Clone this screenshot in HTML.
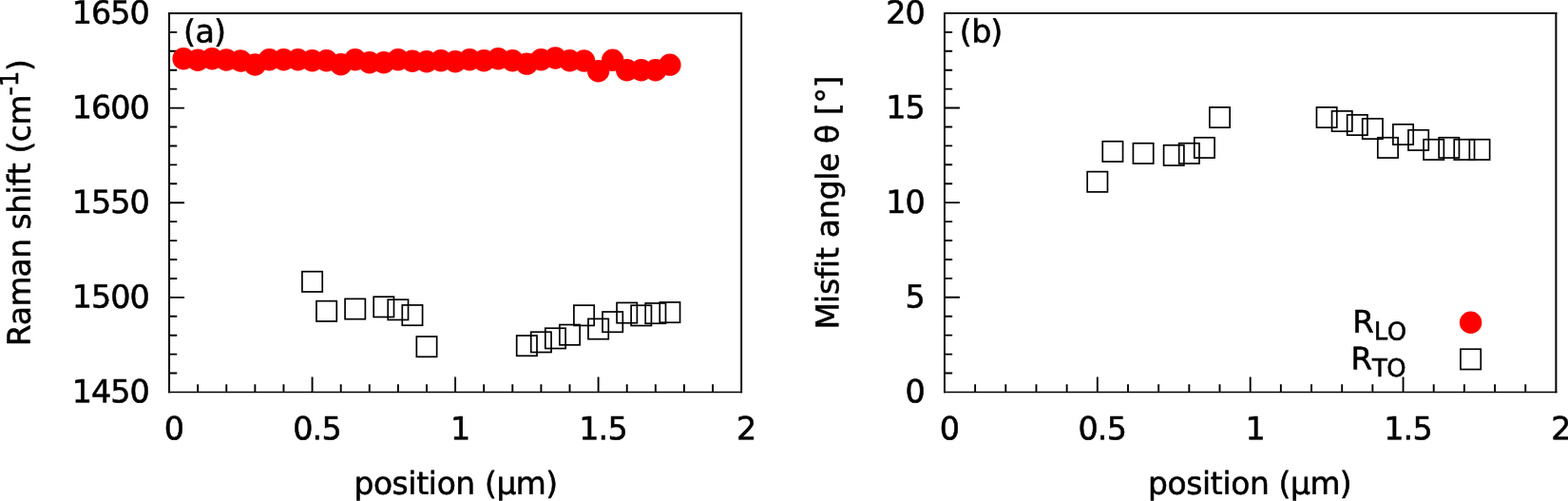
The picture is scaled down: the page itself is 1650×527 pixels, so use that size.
<!DOCTYPE html>
<html lang="en">
<head>
<meta charset="utf-8">
<title>Raman shift and misfit angle vs position</title>
<style>
html,body{margin:0;padding:0;background:#fff;}
svg{display:block;}
text{font-family:"DejaVu Sans", "Liberation Sans", sans-serif;font-size:32.9px;fill:#000;stroke:#000;stroke-width:0.55px;stroke-linejoin:round;font-kerning:none;font-variant-ligatures:none;white-space:pre;}
</style>
</head>
<body>
<svg width="1650" height="527" viewBox="0 0 1650 527">
<rect x="0" y="0" width="1650" height="527" fill="#fff"/>
<path d="M177.05 13.97H781.10" fill="none" stroke="#000" stroke-width="2.0"/>
<path d="M780.15 12.97V413.31" fill="none" stroke="#000" stroke-width="1.9"/>
<path d="M177.05 412.48H781.10" fill="none" stroke="#000" stroke-width="1.65"/>
<path d="M178.05 12.97V413.31" fill="none" stroke="#000" stroke-width="2.0"/>
<path d="M208.16 412.48v-8.2 M238.26 412.48v-8.2 M268.37 412.48v-8.2 M298.47 412.48v-8.2 M328.57 412.48v-16 M358.68 412.48v-8.2 M388.78 412.48v-8.2 M418.89 412.48v-8.2 M449.00 412.48v-8.2 M479.10 412.48v-16 M509.20 412.48v-8.2 M539.31 412.48v-8.2 M569.41 412.48v-8.2 M599.52 412.48v-8.2 M629.62 412.48v-16 M659.73 412.48v-8.2 M689.84 412.48v-8.2 M719.94 412.48v-8.2 M750.05 412.48v-8.2 M178.05 392.55h8.2 M178.05 372.63h8.2 M178.05 352.70h8.2 M178.05 332.78h8.2 M178.05 312.85h16 M178.05 292.93h8.2 M178.05 273.00h8.2 M178.05 253.08h8.2 M178.05 233.15h8.2 M178.05 213.23h16 M178.05 193.30h8.2 M178.05 173.37h8.2 M178.05 153.45h8.2 M178.05 133.52h8.2 M178.05 113.60h16 M178.05 93.67h8.2 M178.05 73.75h8.2 M178.05 53.82h8.2 M178.05 33.90h8.2" fill="none" stroke="#000" stroke-width="1.9"/>
<text transform="translate(182.95 462.28) skewY(0.03)"><tspan x="-10.13" y="0.00" style="font-size:33.40px">0</tspan></text>
<text transform="translate(333.47 462.28) skewY(0.03)"><tspan x="-25.32 -5.06 5.06" y="0.00" style="font-size:33.40px">0.5</tspan></text>
<text transform="translate(484.00 462.28) skewY(0.03)"><tspan x="-10.13" y="0.00" style="font-size:33.40px">1</tspan></text>
<text transform="translate(634.52 462.28) skewY(0.03)"><tspan x="-25.32 -5.06 5.06" y="0.00" style="font-size:33.40px">1.5</tspan></text>
<text transform="translate(785.05 462.28) skewY(0.03)"><tspan x="-10.13" y="0.00" style="font-size:33.40px">2</tspan></text>
<text transform="translate(156.85 423.28) skewY(0.03)"><tspan x="-81.05 -60.79 -40.52 -20.26" y="0.00" style="font-size:33.40px">1450</tspan></text>
<text transform="translate(156.85 323.65) skewY(0.03)"><tspan x="-81.05 -60.79 -40.52 -20.26" y="0.00" style="font-size:33.40px">1500</tspan></text>
<text transform="translate(156.85 224.03) skewY(0.03)"><tspan x="-81.05 -60.79 -40.52 -20.26" y="0.00" style="font-size:33.40px">1550</tspan></text>
<text transform="translate(156.85 124.40) skewY(0.03)"><tspan x="-81.05 -60.79 -40.52 -20.26" y="0.00" style="font-size:33.40px">1600</tspan></text>
<text transform="translate(156.85 24.77) skewY(0.03)"><tspan x="-81.05 -60.79 -40.52 -20.26" y="0.00" style="font-size:33.40px">1650</tspan></text>
<text transform="translate(193.05 44.57) skewY(0.03)"><tspan x="0.00 12.42 31.94" y="0.00" style="font-size:33.40px">(a)</tspan></text>
<path d="M993.00 13.90H1638.40" fill="none" stroke="#000" stroke-width="1.8"/>
<path d="M1637.40 13.00V413.27" fill="none" stroke="#000" stroke-width="2.0"/>
<path d="M993.00 412.45H1638.40" fill="none" stroke="#000" stroke-width="1.65"/>
<path d="M993.95 13.00V413.27" fill="none" stroke="#000" stroke-width="1.9"/>
<path d="M1026.12 412.45v-8.2 M1058.30 412.45v-8.2 M1090.47 412.45v-8.2 M1122.64 412.45v-8.2 M1154.81 412.45v-16 M1186.99 412.45v-8.2 M1219.16 412.45v-8.2 M1251.33 412.45v-8.2 M1283.50 412.45v-8.2 M1315.68 412.45v-16 M1347.85 412.45v-8.2 M1380.02 412.45v-8.2 M1412.19 412.45v-8.2 M1444.37 412.45v-8.2 M1476.54 412.45v-16 M1508.71 412.45v-8.2 M1540.88 412.45v-8.2 M1573.06 412.45v-8.2 M1605.23 412.45v-8.2 M993.95 392.52h8.2 M993.95 372.59h8.2 M993.95 352.67h8.2 M993.95 332.74h8.2 M993.95 312.81h16 M993.95 292.88h8.2 M993.95 272.96h8.2 M993.95 253.03h8.2 M993.95 233.10h8.2 M993.95 213.17h16 M993.95 193.25h8.2 M993.95 173.32h8.2 M993.95 153.39h8.2 M993.95 133.46h8.2 M993.95 113.54h16 M993.95 93.61h8.2 M993.95 73.68h8.2 M993.95 53.75h8.2 M993.95 33.83h8.2" fill="none" stroke="#000" stroke-width="1.9"/>
<text transform="translate(998.85 462.25) skewY(0.03)"><tspan x="-10.13" y="0.00" style="font-size:33.40px">0</tspan></text>
<text transform="translate(1159.71 462.25) skewY(0.03)"><tspan x="-25.32 -5.06 5.06" y="0.00" style="font-size:33.40px">0.5</tspan></text>
<text transform="translate(1320.58 462.25) skewY(0.03)"><tspan x="-10.13" y="0.00" style="font-size:33.40px">1</tspan></text>
<text transform="translate(1481.44 462.25) skewY(0.03)"><tspan x="-25.32 -5.06 5.06" y="0.00" style="font-size:33.40px">1.5</tspan></text>
<text transform="translate(1642.30 462.25) skewY(0.03)"><tspan x="-10.13" y="0.00" style="font-size:33.40px">2</tspan></text>
<text transform="translate(972.75 423.25) skewY(0.03)"><tspan x="-20.26" y="0.00" style="font-size:33.40px">0</tspan></text>
<text transform="translate(972.75 323.61) skewY(0.03)"><tspan x="-20.26" y="0.00" style="font-size:33.40px">5</tspan></text>
<text transform="translate(972.75 223.97) skewY(0.03)"><tspan x="-40.52 -20.26" y="0.00" style="font-size:33.40px">10</tspan></text>
<text transform="translate(972.75 124.34) skewY(0.03)"><tspan x="-40.52 -20.26" y="0.00" style="font-size:33.40px">15</tspan></text>
<text transform="translate(972.75 24.70) skewY(0.03)"><tspan x="-40.52 -20.26" y="0.00" style="font-size:33.40px">20</tspan></text>
<text transform="translate(1009.75 44.50) skewY(0.03)"><tspan x="0.00 12.42 32.64" y="0.00" style="font-size:33.40px">(b)</tspan></text>
<text transform="translate(479.60 519.80) skewY(0.03)"><tspan x="-107.08 -86.70 -67.05 -50.32 -41.40 -28.81 -19.89 -0.24 20.11 30.32 42.84 63.27 94.55" y="0.00">position (µm)</tspan></text>
<text transform="translate(1315.20 519.80) skewY(0.03)"><tspan x="-107.08 -86.70 -67.05 -50.32 -41.40 -28.81 -19.89 -0.24 20.11 30.32 42.84 63.27 94.55" y="0.00">position (µm)</tspan></text>
<text transform="translate(31.70 213.40) rotate(-90) skewY(0.03)"><tspan x="-150.98 -128.76 -109.17 -78.02 -58.42 -38.15 -27.99 -11.33 8.94 17.83 29.09 41.62 51.79 64.27 81.85" y="0.00">Raman shift (cm</tspan><tspan x="113.00 122.23" y="-12.70" style="font-size:26.32px">-1</tspan><tspan x="138.51" y="0.00">)</tspan></text>
<text transform="translate(882.20 213.30) rotate(-90) skewY(0.03)"><tspan x="-133.32 -105.61 -96.69 -79.96 -68.66 -59.74 -47.15 -36.94 -17.26 3.09 23.47 32.39 52.15 62.36 82.00 92.21 104.74 120.79" y="0.00">Misfit angle θ [°]</tspan></text>
<circle cx="193.10" cy="61.69" r="11.7" fill="#f00"/>
<circle cx="208.16" cy="63.29" r="11.7" fill="#f00"/>
<circle cx="223.21" cy="61.79" r="11.7" fill="#f00"/>
<circle cx="238.26" cy="62.99" r="11.7" fill="#f00"/>
<circle cx="253.31" cy="63.98" r="11.7" fill="#f00"/>
<circle cx="268.37" cy="68.07" r="11.7" fill="#f00"/>
<circle cx="283.42" cy="62.79" r="11.7" fill="#f00"/>
<circle cx="298.47" cy="62.79" r="11.7" fill="#f00"/>
<circle cx="313.52" cy="62.79" r="11.7" fill="#f00"/>
<circle cx="328.57" cy="63.78" r="11.7" fill="#f00"/>
<circle cx="343.63" cy="63.78" r="11.7" fill="#f00"/>
<circle cx="358.68" cy="67.77" r="11.7" fill="#f00"/>
<circle cx="373.73" cy="62.79" r="11.7" fill="#f00"/>
<circle cx="388.78" cy="65.78" r="11.7" fill="#f00"/>
<circle cx="403.84" cy="65.78" r="11.7" fill="#f00"/>
<circle cx="418.89" cy="62.79" r="11.7" fill="#f00"/>
<circle cx="433.94" cy="64.28" r="11.7" fill="#f00"/>
<circle cx="449.00" cy="64.78" r="11.7" fill="#f00"/>
<circle cx="464.05" cy="63.78" r="11.7" fill="#f00"/>
<circle cx="479.10" cy="64.78" r="11.7" fill="#f00"/>
<circle cx="494.15" cy="62.79" r="11.7" fill="#f00"/>
<circle cx="509.20" cy="63.78" r="11.7" fill="#f00"/>
<circle cx="524.26" cy="61.79" r="11.7" fill="#f00"/>
<circle cx="539.31" cy="63.78" r="11.7" fill="#f00"/>
<circle cx="554.36" cy="67.17" r="11.7" fill="#f00"/>
<circle cx="569.41" cy="62.79" r="11.7" fill="#f00"/>
<circle cx="584.47" cy="60.99" r="11.7" fill="#f00"/>
<circle cx="599.52" cy="63.78" r="11.7" fill="#f00"/>
<circle cx="614.57" cy="63.98" r="11.7" fill="#f00"/>
<circle cx="629.62" cy="74.74" r="11.7" fill="#f00"/>
<circle cx="644.68" cy="63.19" r="11.7" fill="#f00"/>
<circle cx="659.73" cy="73.75" r="11.7" fill="#f00"/>
<circle cx="674.78" cy="73.75" r="11.7" fill="#f00"/>
<circle cx="689.84" cy="73.75" r="11.7" fill="#f00"/>
<circle cx="704.89" cy="68.17" r="11.7" fill="#f00"/>
<rect x="317.93" y="285.66" width="21.3" height="21.3" fill="none" stroke="#000" stroke-width="1.7"/>
<rect x="332.98" y="316.65" width="21.3" height="21.3" fill="none" stroke="#000" stroke-width="1.7"/>
<rect x="363.08" y="314.36" width="21.3" height="21.3" fill="none" stroke="#000" stroke-width="1.7"/>
<rect x="393.19" y="312.17" width="21.3" height="21.3" fill="none" stroke="#000" stroke-width="1.7"/>
<rect x="408.24" y="315.15" width="21.3" height="21.3" fill="none" stroke="#000" stroke-width="1.7"/>
<rect x="423.29" y="320.93" width="21.3" height="21.3" fill="none" stroke="#000" stroke-width="1.7"/>
<rect x="438.35" y="354.01" width="21.3" height="21.3" fill="none" stroke="#000" stroke-width="1.7"/>
<rect x="543.71" y="353.01" width="21.3" height="21.3" fill="none" stroke="#000" stroke-width="1.7"/>
<rect x="558.76" y="349.23" width="21.3" height="21.3" fill="none" stroke="#000" stroke-width="1.7"/>
<rect x="573.82" y="345.24" width="21.3" height="21.3" fill="none" stroke="#000" stroke-width="1.7"/>
<rect x="588.87" y="341.56" width="21.3" height="21.3" fill="none" stroke="#000" stroke-width="1.7"/>
<rect x="603.92" y="321.13" width="21.3" height="21.3" fill="none" stroke="#000" stroke-width="1.7"/>
<rect x="618.98" y="335.38" width="21.3" height="21.3" fill="none" stroke="#000" stroke-width="1.7"/>
<rect x="634.03" y="328.01" width="21.3" height="21.3" fill="none" stroke="#000" stroke-width="1.7"/>
<rect x="649.08" y="318.44" width="21.3" height="21.3" fill="none" stroke="#000" stroke-width="1.7"/>
<rect x="664.13" y="321.23" width="21.3" height="21.3" fill="none" stroke="#000" stroke-width="1.7"/>
<rect x="679.18" y="318.94" width="21.3" height="21.3" fill="none" stroke="#000" stroke-width="1.7"/>
<rect x="694.24" y="317.94" width="21.3" height="21.3" fill="none" stroke="#000" stroke-width="1.7"/>
<rect x="1144.16" y="180.60" width="21.3" height="21.3" fill="none" stroke="#000" stroke-width="1.7"/>
<rect x="1160.25" y="148.72" width="21.3" height="21.3" fill="none" stroke="#000" stroke-width="1.7"/>
<rect x="1192.42" y="150.71" width="21.3" height="21.3" fill="none" stroke="#000" stroke-width="1.7"/>
<rect x="1224.59" y="152.71" width="21.3" height="21.3" fill="none" stroke="#000" stroke-width="1.7"/>
<rect x="1240.68" y="150.71" width="21.3" height="21.3" fill="none" stroke="#000" stroke-width="1.7"/>
<rect x="1256.77" y="144.74" width="21.3" height="21.3" fill="none" stroke="#000" stroke-width="1.7"/>
<rect x="1272.85" y="112.85" width="21.3" height="21.3" fill="none" stroke="#000" stroke-width="1.7"/>
<rect x="1385.46" y="112.85" width="21.3" height="21.3" fill="none" stroke="#000" stroke-width="1.7"/>
<rect x="1401.54" y="116.84" width="21.3" height="21.3" fill="none" stroke="#000" stroke-width="1.7"/>
<rect x="1417.63" y="120.82" width="21.3" height="21.3" fill="none" stroke="#000" stroke-width="1.7"/>
<rect x="1433.71" y="124.81" width="21.3" height="21.3" fill="none" stroke="#000" stroke-width="1.7"/>
<rect x="1449.80" y="144.74" width="21.3" height="21.3" fill="none" stroke="#000" stroke-width="1.7"/>
<rect x="1465.89" y="130.79" width="21.3" height="21.3" fill="none" stroke="#000" stroke-width="1.7"/>
<rect x="1481.97" y="136.76" width="21.3" height="21.3" fill="none" stroke="#000" stroke-width="1.7"/>
<rect x="1498.06" y="146.73" width="21.3" height="21.3" fill="none" stroke="#000" stroke-width="1.7"/>
<rect x="1514.15" y="144.74" width="21.3" height="21.3" fill="none" stroke="#000" stroke-width="1.7"/>
<rect x="1530.23" y="146.73" width="21.3" height="21.3" fill="none" stroke="#000" stroke-width="1.7"/>
<rect x="1546.32" y="146.73" width="21.3" height="21.3" fill="none" stroke="#000" stroke-width="1.7"/>
<text transform="translate(1423.30 349.80) skewY(0.03)"><tspan x="0.00" y="0.00" style="font-size:32.50px">R</tspan><tspan x="22.34 36.42" y="7.55" style="font-size:25.90px">LO</tspan></text>
<text transform="translate(1421.60 388.50) skewY(0.03)"><tspan x="0.00" y="0.00" style="font-size:32.50px">R</tspan><tspan x="22.34 37.78" y="7.55" style="font-size:25.90px">TO</tspan></text>
<circle cx="1547.6" cy="339.2" r="11.7" fill="#f00"/>
<rect x="1536.95" y="367.25" width="21.3" height="21.3" fill="none" stroke="#000" stroke-width="1.7"/>
</svg>
</body>
</html>
